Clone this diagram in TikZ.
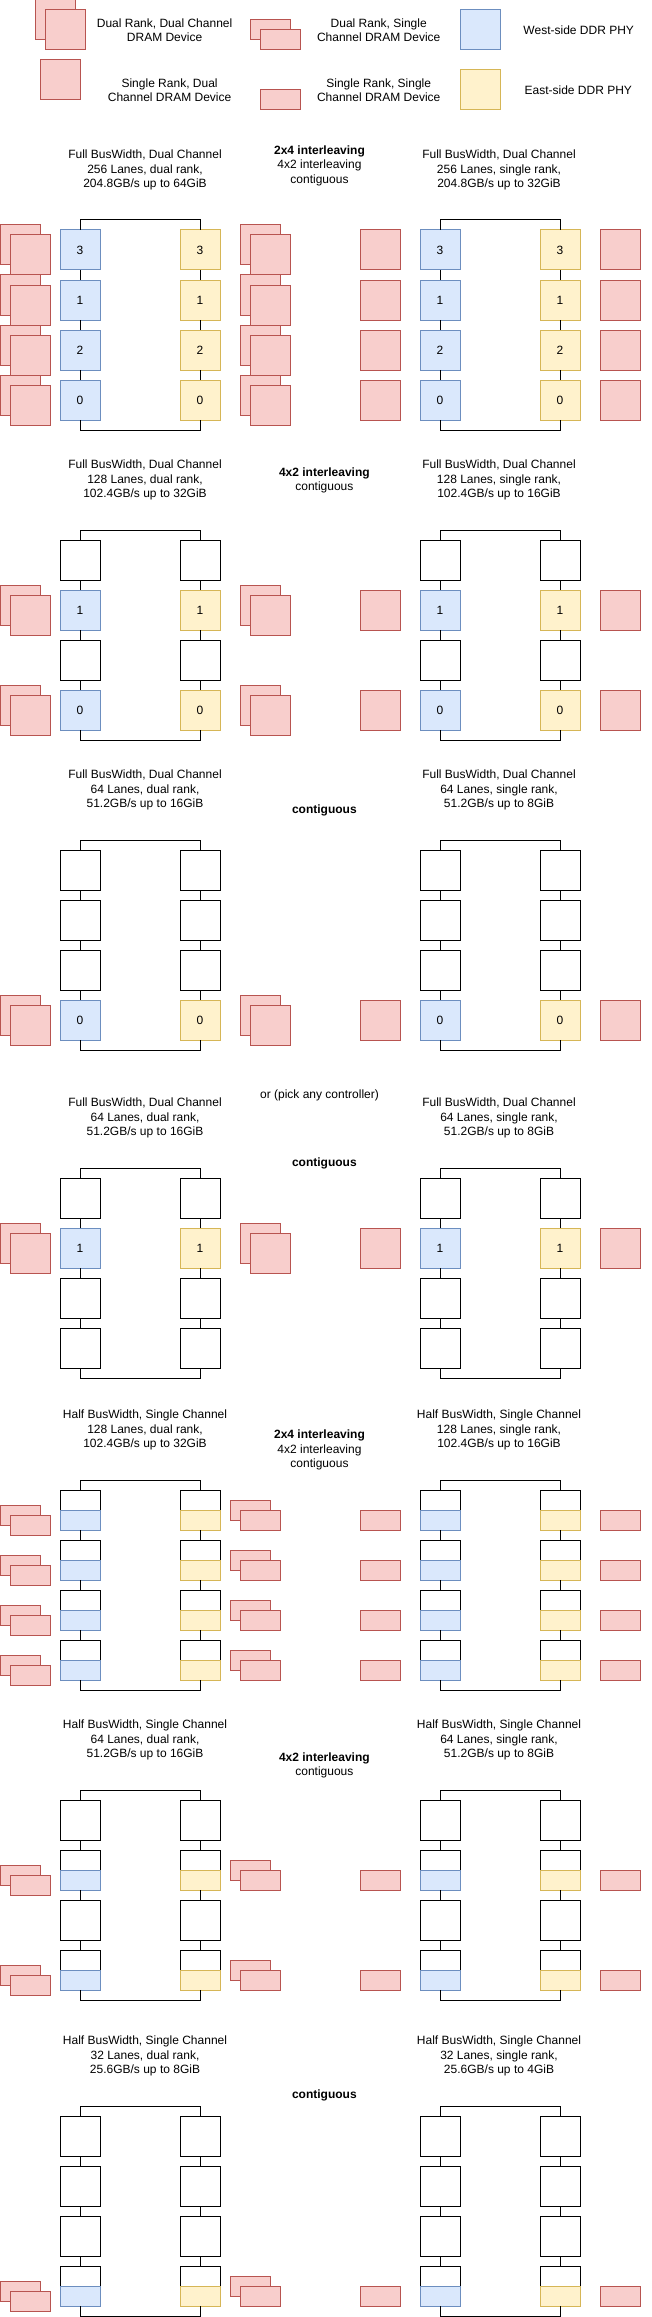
\documentclass[tikz,border=0pt]{standalone}
\usepackage{fontspec}
\setmainfont{Liberation Sans}
\definecolor{dramF}{HTML}{F8CECC}
\definecolor{dramS}{HTML}{B85450}
\definecolor{wF}{HTML}{DAE8FC}
\definecolor{wS}{HTML}{6C8EBF}
\definecolor{eF}{HTML}{FFF2CC}
\definecolor{eS}{HTML}{D6B656}
\newcommand\fsz{\fontsize{12}{14.4}\selectfont}
\tikzset{
 base/.style={anchor=north west, inner sep=0pt, outer sep=0pt, line width=1pt, minimum width=40pt, font=\fsz},
 pW/.style={base, draw=wS, fill=wF, minimum height=40pt},
 pE/.style={base, draw=eS, fill=eF, minimum height=40pt},
 hW/.style={base, draw=wS, fill=wF, minimum height=20pt},
 hE/.style={base, draw=eS, fill=eF, minimum height=20pt},
 slot/.style={base, draw=black, fill=white, minimum height=40pt},
 dram/.style={base, draw=dramS, fill=dramF, minimum height=40pt},
 sdram/.style={base, draw=dramS, fill=dramF, minimum height=20pt},
 lbl/.style={align=center, inner sep=0pt, font=\fsz},
 conn/.style={draw=black, line width=1pt}
}
% full-width row: #1 section, #2 index, #3 top y, #4 kind (P/S), #5 label
\newcommand\frow[5]{%
 \if#4P
  \node[pW] (#1-a-#2) at (60,#3) {#5};
  \node[pE] (#1-b-#2) at (180,#3) {#5};
  \node[pW] (#1-c-#2) at (420,#3) {#5};
  \node[pE] (#1-d-#2) at (540,#3) {#5};
  \node[dram] (#1-lb-#2) at (0,#3-5) {};
  \node[dram] (#1-lf-#2) at (10,#3+5) {};
  \node[dram] (#1-rb-#2) at (240,#3-5) {};
  \node[dram] (#1-rf-#2) at (250,#3+5) {};
  \node[dram] (#1-sl-#2) at (360,#3) {};
  \node[dram] (#1-sr-#2) at (600,#3) {};
 \else
  \node[slot] (#1-a-#2) at (60,#3) {};
  \node[slot] (#1-b-#2) at (180,#3) {};
  \node[slot] (#1-c-#2) at (420,#3) {};
  \node[slot] (#1-d-#2) at (540,#3) {};
 \fi}
% half-width row: #1 section, #2 index, #3 top y, #4 kind (P/S)
\newcommand\hrow[4]{%
  \node[slot] (#1-a-#2) at (60,#3) {};
  \node[slot] (#1-b-#2) at (180,#3) {};
  \node[slot] (#1-c-#2) at (420,#3) {};
  \node[slot] (#1-d-#2) at (540,#3) {};
 \if#4P
  \node[hW] (#1-ah-#2) at (60,#3+20) {};
  \node[hE] (#1-bh-#2) at (180,#3+20) {};
  \node[hW] (#1-ch-#2) at (420,#3+20) {};
  \node[hE] (#1-dh-#2) at (540,#3+20) {};
  \node[sdram] (#1-lb-#2) at (0,#3+15) {};
  \node[sdram] (#1-lf-#2) at (10,#3+25) {};
  \node[sdram] (#1-rb-#2) at (230,#3+10) {};
  \node[sdram] (#1-rf-#2) at (240,#3+20) {};
  \node[sdram] (#1-sl-#2) at (360,#3+20) {};
  \node[sdram] (#1-sr-#2) at (600,#3+20) {};
 \fi}
\newcommand\links[1]{%
 \foreach \c in {a,b,c,d}{\foreach \i/\j in {1/2,2/3,3/4}{\draw[conn] (#1-\c-\i.south) -- (#1-\c-\j.north);}}
 \draw[conn] (#1-a-1.north) -- ++(0,-10) -| (#1-b-1.north);
 \draw[conn] (#1-c-1.north) -- ++(0,-10) -| (#1-d-1.north);
 \draw[conn] (#1-a-4.south) -- ++(0,10) -| (#1-b-4.south);
 \draw[conn] (#1-c-4.south) -- ++(0,10) -| (#1-d-4.south);}
\begin{document}
\begin{tikzpicture}[x=1pt,y=-1pt]
\useasboundingbox (0,0) rectangle (651,2317);
% legend
\node[dram] (lg-dd-b) at (35,0) {};
\node[dram] (lg-dd-f) at (45,10) {};
\node[lbl] (lg-dd-t) at (164.6,30.5) {Dual Rank, Dual Channel\\DRAM Device};
\node[sdram] (lg-ds-b) at (250,20) {};
\node[sdram] (lg-ds-f) at (260,30) {};
\node[lbl] (lg-ds-t) at (378.7,30.5) {Dual Rank, Single\\Channel DRAM Device};
\node[pW] (lg-w) at (460,10) {};
\node[lbl] (lg-w-t) at (578.7,30) {West-side DDR PHY};
\node[dram] (lg-sd) at (40,60) {};
\node[lbl] (lg-sd-t) at (169.6,90) {Single Rank, Dual\\Channel DRAM Device};
\node[sdram] (lg-ss) at (260,90) {};
\node[lbl] (lg-ss-t) at (378.7,90) {Single Rank, Single\\Channel DRAM Device};
\node[pE] (lg-e) at (460,70) {};
\node[lbl] (lg-e-t) at (578.3,90) {East-side DDR PHY};
% section 1
\node[lbl] (s1-tl) at (145,170) {Full BusWidth, Dual Channel\\256 Lanes, dual rank,\\204.8GB/s up to 64GiB};
\node[lbl] (s1-tr) at (499,170) {Full BusWidth, Dual Channel\\256 Lanes, single rank,\\204.8GB/s up to 32GiB};
\node[lbl] (s1-tm) at (319.5,165.7) {\textbf{2x4 interleaving}\\4x2 interleaving\\contiguous};
\frow{s1}{1}{230}{P}{3}
\frow{s1}{2}{280}{P}{1}
\frow{s1}{3}{330}{P}{2}
\frow{s1}{4}{380}{P}{0}
\links{s1}
% section 2
\node[lbl] (s2-tl) at (145,480) {Full BusWidth, Dual Channel\\128 Lanes, dual rank,\\102.4GB/s up to 32GiB};
\node[lbl] (s2-tr) at (499,480) {Full BusWidth, Dual Channel\\128 Lanes, single rank,\\102.4GB/s up to 16GiB};
\node[lbl] (s2-tm) at (324.4,480.5) {\textbf{4x2 interleaving}\\contiguous};
\frow{s2}{1}{540}{S}{}
\frow{s2}{2}{590}{P}{1}
\frow{s2}{3}{640}{S}{}
\frow{s2}{4}{690}{P}{0}
\links{s2}
% section 3
\node[lbl] (s3-tl) at (145,790) {Full BusWidth, Dual Channel\\64 Lanes, dual rank,\\51.2GB/s up to 16GiB};
\node[lbl] (s3-tr) at (499,790) {Full BusWidth, Dual Channel\\64 Lanes, single rank,\\51.2GB/s up to 8GiB};
\node[lbl] (s3-tm) at (324.4,810) {\textbf{contiguous}};
\frow{s3}{1}{850}{S}{}
\frow{s3}{2}{900}{S}{}
\frow{s3}{3}{950}{S}{}
\frow{s3}{4}{1000}{P}{0}
\links{s3}
% section 4
\node[lbl] (s4-or) at (319.5,1095) {or (pick any controller)};
\node[lbl] (s4-tl) at (145,1118) {Full BusWidth, Dual Channel\\64 Lanes, dual rank,\\51.2GB/s up to 16GiB};
\node[lbl] (s4-tr) at (499,1118) {Full BusWidth, Dual Channel\\64 Lanes, single rank,\\51.2GB/s up to 8GiB};
\node[lbl] (s4-tm) at (324.4,1163) {\textbf{contiguous}};
\frow{s4}{1}{1178}{S}{}
\frow{s4}{2}{1228}{P}{1}
\frow{s4}{3}{1278}{S}{}
\frow{s4}{4}{1328}{S}{}
\links{s4}
% section 5
\node[lbl] (s5-tl) at (145,1430) {Half BusWidth, Single Channel\\128 Lanes, dual rank,\\102.4GB/s up to 32GiB};
\node[lbl] (s5-tr) at (499,1430) {Half BusWidth, Single Channel\\128 Lanes, single rank,\\102.4GB/s up to 16GiB};
\node[lbl] (s5-tm) at (319.5,1450) {\textbf{2x4 interleaving}\\4x2 interleaving\\contiguous};
\hrow{s5}{1}{1490}{P}
\hrow{s5}{2}{1540}{P}
\hrow{s5}{3}{1590}{P}
\hrow{s5}{4}{1640}{P}
\links{s5}
% section 6
\node[lbl] (s6-tl) at (145,1740) {Half BusWidth, Single Channel\\64 Lanes, dual rank,\\51.2GB/s up to 16GiB};
\node[lbl] (s6-tr) at (499,1740) {Half BusWidth, Single Channel\\64 Lanes, single rank,\\51.2GB/s up to 8GiB};
\node[lbl] (s6-tm) at (324.4,1765.5) {\textbf{4x2 interleaving}\\contiguous};
\hrow{s6}{1}{1800}{S}
\hrow{s6}{2}{1850}{P}
\hrow{s6}{3}{1900}{S}
\hrow{s6}{4}{1950}{P}
\links{s6}
% section 7
\node[lbl] (s7-tl) at (145,2056) {Half BusWidth, Single Channel\\32 Lanes, dual rank,\\25.6GB/s up to 8GiB};
\node[lbl] (s7-tr) at (499,2056) {Half BusWidth, Single Channel\\32 Lanes, single rank,\\25.6GB/s up to 4GiB};
\node[lbl] (s7-tm) at (324.4,2095) {\textbf{contiguous}};
\hrow{s7}{1}{2116}{S}
\hrow{s7}{2}{2166}{S}
\hrow{s7}{3}{2216}{S}
\hrow{s7}{4}{2266}{P}
\links{s7}
\end{tikzpicture}
\end{document}
